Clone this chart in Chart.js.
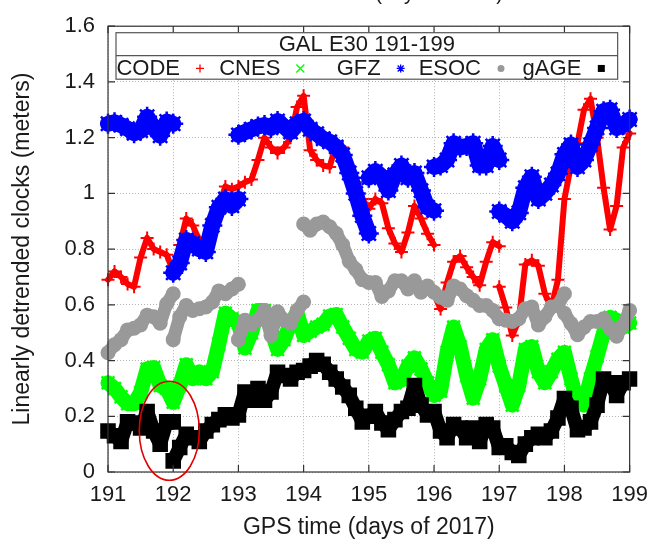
<!DOCTYPE html>
<html>
<head>
<meta charset="utf-8">
<title>GAL E30 clocks</title>
<script src="https://cdn.jsdelivr.net/npm/chart.js@4.4.0/dist/chart.umd.min.js"></script>
<style>
  html, body { margin: 0; padding: 0; background: #fff; }
  #wrap { width: 658px; height: 542px; }
</style>
</head>
<body>
<div id="wrap"><canvas id="clocks" width="658" height="542"></canvas></div>
<script>
// axis ticks
const dayTicks = [191, 192, 193, 194, 195, 196, 197, 198, 199];
const meterTicks = [0, 0.2, 0.4, 0.6, 0.8, 1.0, 1.2, 1.4, 1.6];
const sampleStep = 0.1; // days between samples

// each series: start day of every continuous arc + values every 0.1 day
const codeStarts = [191, 196, 197];
const codeValues = [
  [0.69, 0.72, 0.70, 0.675, 0.665, 0.77, 0.84, 0.80, 0.79, 0.78,
   0.72, 0.815, 0.91, 0.885, 0.83, 0.84, 0.91, 0.955, 1.025, 1.015,
   1.025, 1.04, 1.05, 1.12, 1.20, 1.165, 1.145, 1.165, 1.20, 1.31,
   1.35, 1.155, 1.12, 1.10, 1.095, 1.18, 1.165, 1.085, 1.04, 0.98,
   0.945, 0.98, 0.965, 0.875, 0.82, 0.79, 0.86, 0.955, 0.91, 0.855,
   0.815],
  [0.64, 0.585, 0.68, 0.755, 0.775, 0.735, 0.70, 0.67, 0.755, 0.825, 0.81],
  [0.665, 0.59, 0.49, 0.545, 0.745, 0.76, 0.74, 0.64, 0.59, 0.69,
   0.98, 1.10, 1.18, 1.30, 1.34, 1.20, 1.02, 0.87, 0.955, 1.165,
   1.215]
];

const cnesStarts = [191];
const cnesValues = [
  [0.32, 0.30, 0.27, 0.245, 0.245, 0.285, 0.37, 0.375, 0.31, 0.30,
   0.25, 0.31, 0.385, 0.335, 0.36, 0.335, 0.36, 0.46, 0.57, 0.55,
   0.535, 0.445, 0.50, 0.58, 0.58, 0.51, 0.44, 0.475, 0.535, 0.57,
   0.49, 0.505, 0.52, 0.53, 0.56, 0.565, 0.52, 0.48, 0.44, 0.43,
   0.47, 0.48, 0.43, 0.385, 0.32, 0.33, 0.38, 0.41, 0.37, 0.32,
   0.275, 0.29, 0.43, 0.52, 0.45, 0.345, 0.265, 0.335, 0.44, 0.475,
   0.38, 0.31, 0.24, 0.31, 0.44, 0.45, 0.36, 0.32, 0.36, 0.405,
   0.43, 0.335, 0.25, 0.24, 0.335, 0.415, 0.50, 0.555, 0.545, 0.52,
   0.535]
];

const gfzStarts = [191, 192, 193, 195, 196, 197];
const gfzValues = [
  [1.25, 1.255, 1.245, 1.232, 1.216, 1.225, 1.275, 1.235, 1.207, 1.258, 1.25],
  [0.715, 0.75, 0.833, 0.82, 0.80, 0.79, 0.885, 0.95, 0.98, 0.955, 0.98],
  [1.21, 1.22, 1.23, 1.24, 1.245, 1.235, 1.26, 1.24, 1.22, 1.25,
   1.26, 1.23, 1.214, 1.196, 1.185, 1.167, 1.138, 1.073, 1.0, 0.92,
   0.856],
  [1.056, 1.08, 1.06, 1.01, 1.067, 1.10, 1.056, 1.073, 1.01, 0.95, 0.938],
  [1.095, 1.10, 1.12, 1.18, 1.165, 1.17, 1.18, 1.10, 1.10, 1.17, 1.12],
  [0.935, 0.92, 0.90, 0.93, 1.02, 1.06, 0.98, 1.0, 1.03, 1.07,
   1.14, 1.175, 1.095, 1.12, 1.175, 1.235, 1.295, 1.30, 1.235, 1.245,
   1.265]
];

const esocStarts = [191, 192, 193, 194, 198];
const esocValues = [
  [0.428, 0.457, 0.475, 0.51, 0.516, 0.528, 0.563, 0.557, 0.534, 0.604, 0.64],
  [0.475, 0.557, 0.598, 0.58, 0.586, 0.592, 0.61, 0.65, 0.64, 0.657, 0.674],
  [0.475, 0.545, 0.528, 0.545, 0.58, 0.49, 0.575, 0.545, 0.534, 0.58, 0.61],
  [0.89, 0.868, 0.89, 0.897, 0.88, 0.856, 0.815, 0.756, 0.727, 0.69,
   0.68, 0.68, 0.63, 0.65, 0.686, 0.686, 0.657, 0.686, 0.645, 0.668,
   0.645, 0.627, 0.616, 0.668, 0.657, 0.633, 0.616, 0.598, 0.598, 0.58,
   0.55, 0.545, 0.54, 0.55, 0.586, 0.592, 0.528, 0.557, 0.592, 0.598,
   0.64],
  [0.57, 0.533, 0.493, 0.52, 0.54, 0.54, 0.55, 0.516, 0.487, 0.528, 0.58]
];

const gageStarts = [191, 192];
const gageValues = [
  [0.147, 0.13, 0.11, 0.18, 0.176, 0.158, 0.217, 0.147, 0.10, 0.18, 0.18],
  [0.04, 0.088, 0.135, 0.123, 0.11, 0.147, 0.17, 0.188, 0.205, 0.194,
   0.205, 0.287, 0.258, 0.30, 0.258, 0.287, 0.358, 0.346, 0.334, 0.358,
   0.364, 0.38, 0.40, 0.387, 0.358, 0.334, 0.305, 0.275, 0.229, 0.18,
   0.20, 0.217, 0.176, 0.152, 0.188, 0.217, 0.229, 0.31, 0.24, 0.205,
   0.217, 0.147, 0.123, 0.17, 0.158, 0.123, 0.158, 0.11, 0.17, 0.158,
   0.088, 0.094, 0.07, 0.059, 0.10, 0.123, 0.135, 0.123, 0.147, 0.194,
   0.264, 0.229, 0.152, 0.158, 0.18, 0.24, 0.334, 0.32, 0.275, 0.32,
   0.334]
];

// build {x,y} points, a null point between arcs breaks the line
function toPoints(starts, values) {
  const pts = [];
  starts.forEach((start, i) => {
    if (i > 0) pts.push({ x: start, y: null });
    values[i].forEach((v, k) => {
      pts.push({ x: +(start + k * sampleStep).toFixed(2), y: v });
    });
  });
  return pts;
}

const FONT = "'Liberation Sans', Arial, Helvetica, sans-serif";
const INK = '#1a1a1a';

function series(label, starts, values, color, style) {
  return Object.assign({
    label: label,
    data: toPoints(starts, values),
    borderColor: color,
    backgroundColor: color,
    pointBorderColor: color,
    pointBackgroundColor: color,
    borderJoinStyle: 'round',
    borderCapStyle: 'round',
    tension: 0,
    spanGaps: false,
    clip: 8
  }, style);
}

// thick strokes stand in for the dense clouds of samples
const datasets = [
  series('CODE', codeStarts, codeValues, '#ff0000',
    { borderWidth: 6, pointStyle: 'cross', pointRadius: 6.5, pointBorderWidth: 2, order: 5 }),
  series('CNES', cnesStarts, cnesValues, '#00ff00',
    { borderWidth: 15, pointStyle: 'crossRot', pointRadius: 9, pointBorderWidth: 2.5, order: 4 }),
  series('GFZ', gfzStarts, gfzValues, '#0000ff',
    { borderWidth: 16, pointStyle: 'star', pointRadius: 10, pointBorderWidth: 2.5, order: 3 }),
  series('ESOC', esocStarts, esocValues, '#999999',
    { borderWidth: 13, pointStyle: 'circle', pointRadius: 7.5, pointBorderWidth: 0, order: 2 }),
  series('gAGE', gageStarts, gageValues, '#000000',
    { borderWidth: 14, pointStyle: 'rect', pointRadius: 11, pointBorderWidth: 0, order: 1 })
];

// small marker used in the key
function drawSample(ctx, style, x, y, color) {
  ctx.save();
  ctx.strokeStyle = color;
  ctx.fillStyle = color;
  ctx.lineWidth = 1.3;
  const r = 4;
  ctx.beginPath();
  if (style === 'cross') {
    ctx.moveTo(x - r, y); ctx.lineTo(x + r, y);
    ctx.moveTo(x, y - r); ctx.lineTo(x, y + r);
    ctx.stroke();
  } else if (style === 'crossRot') {
    ctx.moveTo(x - r, y - r); ctx.lineTo(x + r, y + r);
    ctx.moveTo(x - r, y + r); ctx.lineTo(x + r, y - r);
    ctx.stroke();
  } else if (style === 'star') {
    ctx.moveTo(x - r, y); ctx.lineTo(x + r, y);
    ctx.moveTo(x, y - r); ctx.lineTo(x, y + r);
    ctx.moveTo(x - r * 0.75, y - r * 0.75); ctx.lineTo(x + r * 0.75, y + r * 0.75);
    ctx.moveTo(x - r * 0.75, y + r * 0.75); ctx.lineTo(x + r * 0.75, y - r * 0.75);
    ctx.stroke();
  } else if (style === 'circle') {
    ctx.arc(x, y, 3.5, 0, Math.PI * 2);
    ctx.fill();
  } else {
    ctx.fillRect(x - 3.5, y - 3.5, 7, 7);
  }
  ctx.restore();
}

// gnuplot-like frame, inward ticks, key box, titles and the marked area
const decorations = {
  id: 'decorations',
  afterDatasetsDraw(chart) {
    const { ctx, chartArea: a, scales } = chart;
    const xs = scales.x, ys = scales.y;
    ctx.save();

    // frame and mirrored inward ticks
    ctx.strokeStyle = '#333';
    ctx.lineWidth = 1.2;
    ctx.strokeRect(a.left, a.top, a.right - a.left, a.bottom - a.top);
    ctx.beginPath();
    dayTicks.forEach(d => {
      const px = xs.getPixelForValue(d);
      ctx.moveTo(px, a.bottom); ctx.lineTo(px, a.bottom - 7);
      ctx.moveTo(px, a.top); ctx.lineTo(px, a.top + 7);
    });
    meterTicks.forEach(m => {
      const py = ys.getPixelForValue(m);
      ctx.moveTo(a.left, py); ctx.lineTo(a.left + 7, py);
      ctx.moveTo(a.right, py); ctx.lineTo(a.right - 7, py);
    });
    ctx.stroke();

    // key box
    const box = { left: a.left + 8, right: a.right - 12, top: a.top + 6.5, mid: a.top + 29.5, bottom: a.top + 53 };
    ctx.fillStyle = '#fff';
    ctx.fillRect(box.left, box.top, box.right - box.left, box.bottom - box.top);
    ctx.strokeStyle = '#555';
    ctx.lineWidth = 1.2;
    ctx.strokeRect(box.left, box.top, box.right - box.left, box.bottom - box.top);
    ctx.beginPath();
    ctx.moveTo(box.left, box.mid); ctx.lineTo(box.right, box.mid);
    ctx.stroke();

    ctx.fillStyle = INK;
    ctx.font = '22px ' + FONT;
    ctx.textAlign = 'center';
    ctx.textBaseline = 'middle';
    ctx.fillText('GAL E30 191-199', (box.left + box.right) / 2, (box.top + box.mid) / 2 + 1);

    const slot = (box.right - box.left) / datasets.length;
    const rowY = (box.mid + box.bottom) / 2 + 1;
    datasets.forEach((ds, i) => {
      const textRight = box.left + 64 + i * slot;
      ctx.fillStyle = INK;
      ctx.textAlign = 'right';
      ctx.fillText(ds.label, textRight, rowY);
      drawSample(ctx, ds.pointStyle, textRight + 20, rowY, ds.borderColor);
    });

    // marked area around the day-192 jump
    ctx.strokeStyle = '#e00000';
    ctx.lineWidth = 1.6;
    ctx.beginPath();
    ctx.ellipse(xs.getPixelForValue(191.94), ys.getPixelForValue(0.148), 30, 49.5, 0, 0, Math.PI * 2);
    ctx.stroke();

    // axis titles
    ctx.fillStyle = INK;
    ctx.font = '23px ' + FONT;
    ctx.textAlign = 'center';
    ctx.textBaseline = 'alphabetic';
    ctx.fillText('GPS time (days of 2017)', (a.left + a.right) / 2, 534);

    ctx.save();
    ctx.translate(29, (a.top + a.bottom) / 2);
    ctx.rotate(-Math.PI / 2);
    ctx.fillText('Linearly detrended clocks (meters)', 0, 0);
    ctx.restore();

    // label of the panel above, cut by the page edge
    ctx.font = '20px ' + FONT;
    ctx.textAlign = 'right';
    ctx.fillText('GPS time (days of 2017)', 503, -0.5);

    ctx.restore();
  }
};

new Chart(document.getElementById('clocks'), {
  type: 'line',
  data: { datasets: datasets },
  options: {
    responsive: false,
    animation: false,
    devicePixelRatio: 1,
    events: [],
    layout: { padding: { top: 17, right: 23, left: 0, bottom: 0 } },
    plugins: {
      legend: { display: false },
      tooltip: { enabled: false }
    },
    scales: {
      x: {
        type: 'linear',
        min: 191,
        max: 199,
        afterBuildTicks: s => { s.ticks = dayTicks.map(v => ({ value: v })); },
        afterFit: s => { s.height = 70; },
        ticks: {
          autoSkip: false,
          maxRotation: 0,
          padding: 10,
          color: INK,
          font: { family: FONT, size: 22 },
          callback: v => String(v)
        },
        grid: { color: '#b4b4b4', lineWidth: 1, drawTicks: false },
        border: { display: false, dash: [1, 2] }
      },
      y: {
        type: 'linear',
        min: 0,
        max: 1.6,
        afterBuildTicks: s => { s.ticks = meterTicks.map(v => ({ value: v })); },
        afterFit: s => { s.width = 108; },
        ticks: {
          padding: 13,
          color: INK,
          font: { family: FONT, size: 22 },
          callback: v => String(+v.toFixed(1))
        },
        grid: { color: '#b4b4b4', lineWidth: 1, drawTicks: false },
        border: { display: false, dash: [1, 2] }
      }
    }
  },
  plugins: [decorations]
});
</script>
</body>
</html>
